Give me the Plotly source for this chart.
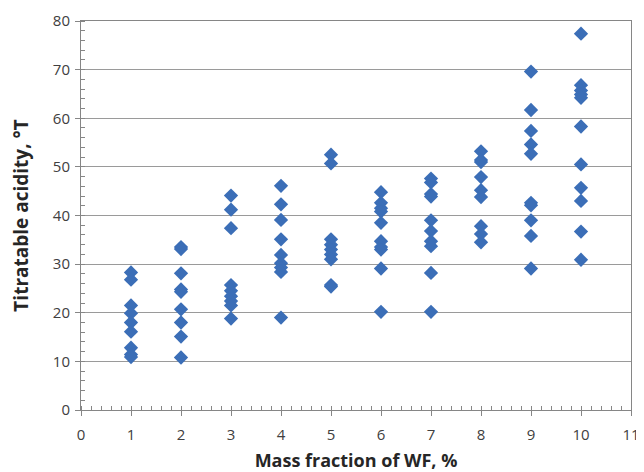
import plotly.graph_objects as go

# Mass fraction of WF, % (x categories)
mass_fraction = [1, 2, 3, 4, 5, 6, 7, 8, 9, 10]

# Titratable acidity readings for each mass fraction
acid_wf1 = [28.3, 26.8, 21.5, 19.9, 18.0, 16.1, 12.8, 11.4, 10.9]
acid_wf2 = [33.5, 33.1, 28.1, 24.8, 24.3, 20.7, 18.0, 15.1, 10.8]
acid_wf3 = [44.1, 41.2, 37.4, 25.7, 24.5, 23.4, 22.4, 21.5, 18.8]
acid_wf4 = [46.1, 42.3, 39.1, 35.1, 31.9, 30.2, 29.3, 28.4, 19.0]
acid_wf5 = [52.5, 50.7, 35.1, 34.0, 33.0, 32.0, 31.0, 25.7, 25.4]
acid_wf6 = [44.8, 42.6, 41.5, 40.8, 38.5, 34.7, 33.5, 33.0, 29.1, 20.2]
acid_wf7 = [47.6, 46.8, 44.4, 43.9, 39.0, 36.8, 34.7, 33.7, 28.2, 20.2]
acid_wf8 = [53.2, 51.4, 51.0, 47.9, 45.2, 43.8, 37.8, 36.2, 34.5]
acid_wf9 = [69.6, 61.7, 57.4, 54.6, 52.7, 42.6, 42.1, 39.0, 35.8, 29.1]
acid_wf10 = [77.4, 66.8, 65.7, 64.9, 64.2, 58.3, 50.5, 45.7, 43.0, 36.7, 30.9]

x_ticks = list(range(0, 12))
y_ticks = list(range(0, 90, 10))

groups = [acid_wf1, acid_wf2, acid_wf3, acid_wf4, acid_wf5,
          acid_wf6, acid_wf7, acid_wf8, acid_wf9, acid_wf10]
xs, ys = [], []
for m, vals in zip(mass_fraction, groups):
    for v in vals:
        xs.append(m)
        ys.append(v)

fig = go.Figure()
fig.add_trace(go.Scatter(
    x=xs, y=ys, mode="markers",
    marker=dict(symbol="diamond", size=11, color="#3B6EB7",
                line=dict(width=0)),
    showlegend=False,
))

font_family = "Open Sans, Liberation Sans, Arial, sans-serif"
# page body has an 8px margin, so the figure is sized to fit the window
fig.update_layout(
    width=636, height=464,
    margin=dict(l=73, r=13, t=13, b=62),
    paper_bgcolor="white", plot_bgcolor="white",
    font=dict(family=font_family, size=15, color="#404040"),
)
fig.update_xaxes(
    range=[0, 11], tickvals=x_ticks, showgrid=False, zeroline=False, automargin=False,
    showline=True, linecolor="#868686", linewidth=1, mirror=True,
    ticks="outside", ticklen=5, tickcolor="#868686", ticklabelstandoff=6,
    minor=dict(dtick=0.2, ticks="inside", ticklen=4, tickcolor="#868686", showgrid=False),
    tickfont=dict(size=15, color="#404040"),
    title=dict(text="<b>Mass fraction of WF, %</b>", font=dict(size=18, color="#262626"), standoff=12),
)
fig.update_yaxes(
    range=[0, 80], tickvals=y_ticks, showgrid=True, gridcolor="#9A9A9A", gridwidth=1,
    zeroline=False, automargin=False,
    showline=True, linecolor="#868686", linewidth=1, mirror=True,
    ticks="outside", ticklen=5, tickcolor="#868686", ticklabelstandoff=2,
    minor=dict(dtick=2, ticks="inside", ticklen=4, tickcolor="#868686", showgrid=False),
    tickfont=dict(size=15, color="#404040"),
    title=dict(text="<b>Titratable acidity, °T</b>", font=dict(size=19, color="#262626"), standoff=24),
)

fig.write_html("out.html")
